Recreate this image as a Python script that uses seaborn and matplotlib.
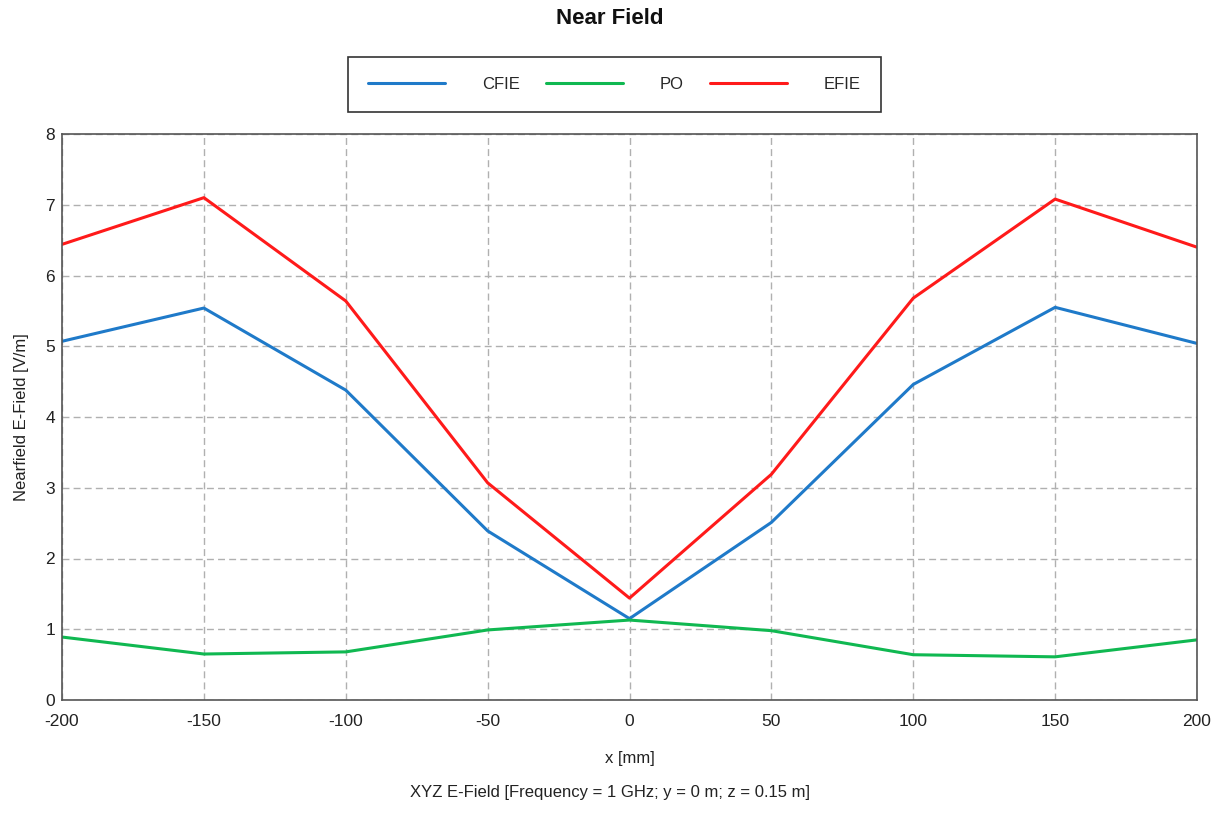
import matplotlib
matplotlib.use("Agg")
import matplotlib.pyplot as plt
import seaborn as sns
import pandas as pd

x_mm = [-200, -150, -100, -50, 0, 50, 100, 150, 200]
cfie = [5.07, 5.54, 4.38, 2.39, 1.15, 2.51, 4.46, 5.55, 5.04]
po = [0.89, 0.65, 0.68, 0.99, 1.13, 0.98, 0.64, 0.61, 0.85]
efie = [6.44, 7.10, 5.64, 3.07, 1.44, 3.19, 5.68, 7.08, 6.40]
series_names = ["CFIE", "PO", "EFIE"]
colors = {"CFIE": "#1f7ac9", "PO": "#10b851", "EFIE": "#ff1a1a"}

df = pd.DataFrame({"x": x_mm * 3,
                   "val": cfie + po + efie,
                   "series": [s for s in series_names for _ in x_mm]})

sns.set_theme(style="white")
plt.rcParams['font.family'] = ['Liberation Sans', 'DejaVu Sans']

fig = plt.figure(figsize=(12.19, 8.33), dpi=100)
ax = fig.add_axes([62/1219, 1-700/833, (1197-62)/1219, (700-134)/833])
sns.lineplot(data=df, x="x", y="val", hue="series", hue_order=series_names,
             palette=colors, linewidth=2.2, ax=ax, legend=False)

ax.set_xlim(-200, 200)
ax.set_ylim(0, 8)
ax.set_xticks(x_mm)
ax.set_xticklabels([str(v) for v in x_mm])
ax.set_yticks(range(0, 9))
ax.grid(True, linestyle=(0, (5, 3)), color="#b0b0b0", linewidth=1)
for s in ax.spines.values():
    s.set_color("#555555")
    s.set_linewidth(1.2)
ax.tick_params(axis="both", labelsize=12.5, colors="#222222", length=0)
ax.tick_params(axis="x", pad=10)
ax.tick_params(axis="y", pad=5)
ax.set_xlabel("x [mm]", fontsize=12, labelpad=16, color="#222222")
ax.set_ylabel("Nearfield E-Field [V/m]", fontsize=12, labelpad=12, color="#222222")

fig.text(0.5, 1-19/833, "Near Field", ha="center", va="center",
         fontsize=16, fontweight="bold", color="#111111")
fig.text(0.5, 1-792/833, "XYZ E-Field [Frequency = 1 GHz; y = 0 m; z = 0.15 m]",
         ha="center", va="center", fontsize=12, color="#222222")

handles = [plt.Line2D([], [], color=colors[s], linewidth=2.2) for s in series_names]
leg = fig.legend(handles, series_names, ncol=3, loc="center",
                 bbox_to_anchor=(614.5/1219, 1-84.5/833), frameon=True,
                 fancybox=False, fontsize=12, handlelength=4.6,
                 columnspacing=1.6, handletextpad=2.2,
                 borderpad=1.2, edgecolor="black")
leg.get_frame().set_linewidth(1.2)

fig.savefig("out.png", dpi=100)
